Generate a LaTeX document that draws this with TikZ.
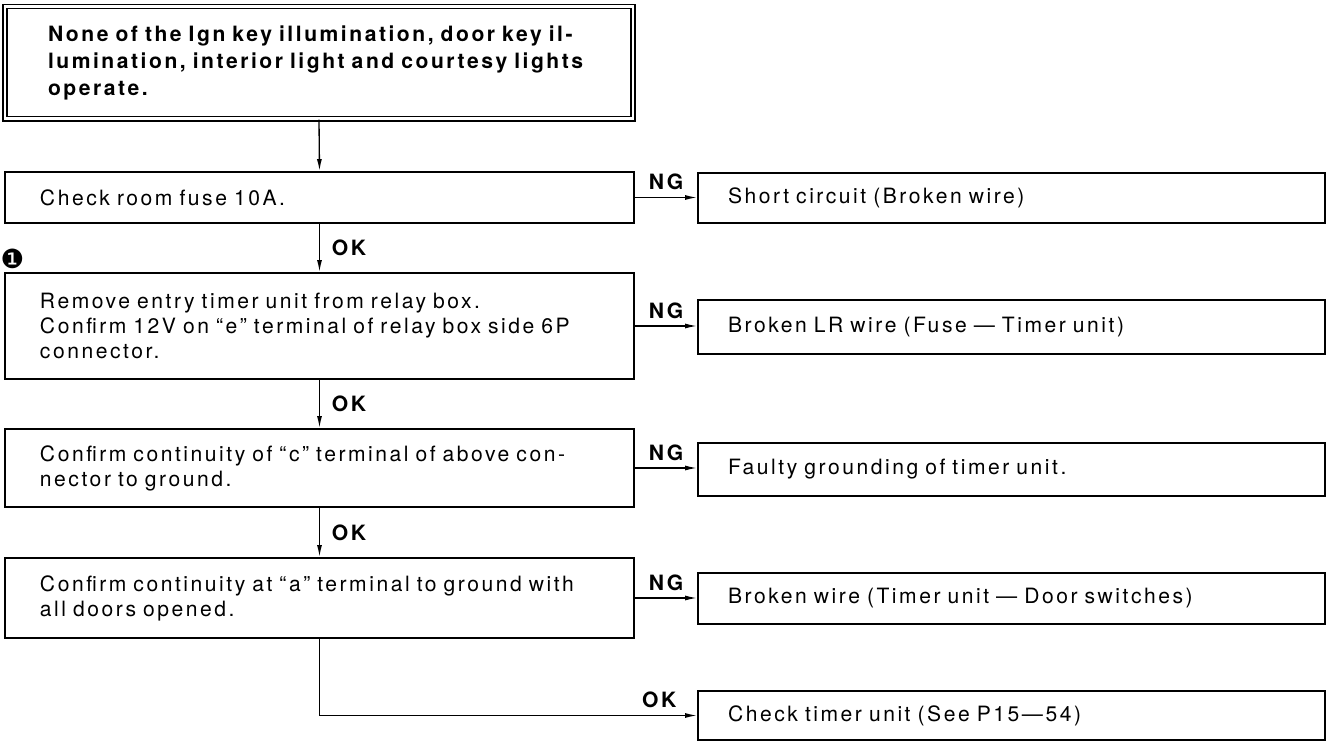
\documentclass[tikz,border=0pt]{standalone}
\usepackage{fontspec}
\setmainfont{TeX Gyre Heros}[LetterSpace=12]
\newfontfamily\dingfont{DejaVu Sans}
\usetikzlibrary{arrows.meta, positioning}

\begin{document}
\begin{tikzpicture}[
    chk/.style={draw, line width=1.1pt, align=left, text width=11.18cm,
      inner xsep=0.7cm, inner ysep=1pt, font=\fontsize{12}{14.3}\selectfont},
    res/.style={draw, line width=1.1pt, align=left, text width=11.34cm,
      inner xsep=0.6cm, inner ysep=1pt, font=\fontsize{12}{14.3}\selectfont},
    arr/.style={-{Latex[length=0.24cm, width=0.1cm]}, line width=0.75pt},
    lbl/.style={font=\bfseries\fontsize{12}{14}\selectfont, inner sep=1pt}]
    \useasboundingbox (0,0) rectangle (26.6,-14.82);

    % problem statement
    \node[draw, double, double distance=1.7pt, line width=0.85pt, align=left,
          text width=10.84cm, inner xsep=0.86cm, minimum height=2.25cm,
          font=\bfseries\fontsize{12}{15.4}\selectfont] (start) at (6.38,-1.255)
          {None of the Ign key illumination, door key il-\\lumination, interior light and courtesy lights\\operate.};

    % check steps
    \foreach \nm/\yy/\hh/\txt in {
      fuse/3.95/1.02/{Check room fuse 10A.},
      relay/6.52/2.12/{Remove entry timer unit from relay box.\\Confirm 12V on ``e'' terminal of relay box side 6P\\connector.},
      gndc/9.36/1.56/{Confirm continuity of ``c'' terminal of above con-\\nector to ground.},
      gnda/11.96/1.6/{Confirm continuity at ``a'' terminal to ground with\\all doors opened.}%
    }{
      \node[chk, minimum height=\hh cm] (\nm) at (6.39,-\yy) {\txt};
    }
    \node[font=\dingfont\fontsize{15}{15}\selectfont, inner sep=0pt] (mark) at (0.25,-5.18) {❶};

    % results
    \foreach \nm/\src/\yy/\hh/\txt in {
      short/fuse/3.96/1.0/{Short circuit (Broken wire)},
      lrwire/relay/6.54/1.08/{Broken LR wire (Fuse --- Timer unit)},
      ground/gndc/9.39/1.06/{Faulty grounding of timer unit.},
      door/gnda/11.97/1.02/{Broken wire (Timer unit --- Door switches)}%
    }{
      \node[res, minimum height=\hh cm] (\nm) at (20.23,-\yy) {\txt};
      \draw[arr] (\src.east) -- node[lbl, above=3pt] (ng\nm) {NG} (\src.east -| \nm.west);
    }
    \node[res, minimum height=0.98cm] (timer) at (20.23,-14.31) {Check timer unit (See P15---54)};

    % OK flow
    \draw[arr] (start.south) -- (fuse.north);
    \foreach \a/\b in {fuse/relay, relay/gndc, gndc/gnda}{
      \draw[arr] (\a.south) -- node[lbl, right, xshift=0.2cm] (ok\b) {OK} (\b.north);
    }
    \draw[arr] (gnda.south) |- node[lbl, above=3pt, pos=0.95] (oktimer) {OK} (timer.west);
\end{tikzpicture}
\end{document}
